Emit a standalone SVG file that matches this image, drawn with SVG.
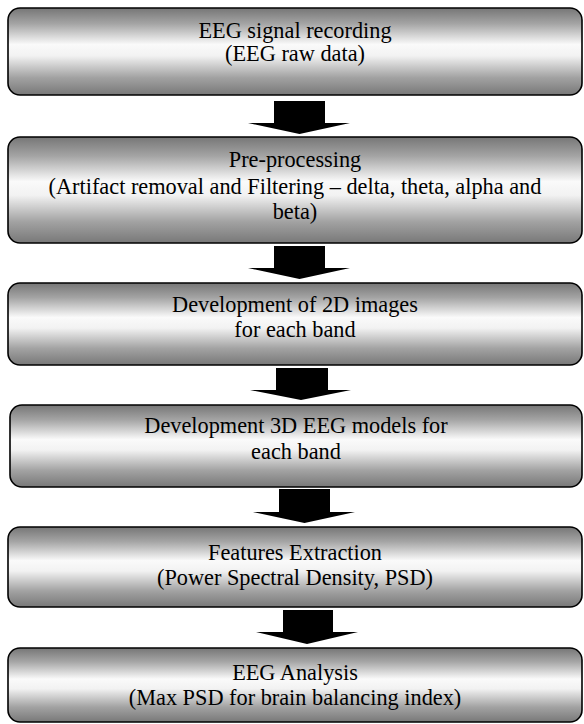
<svg xmlns="http://www.w3.org/2000/svg" width="584" height="724" viewBox="0 0 584 724">
  <defs>
    <linearGradient id="boxGrad" x1="0" y1="0" x2="0" y2="1">
      <stop offset="0" stop-color="#767676"/>
      <stop offset="0.18" stop-color="#a4a4a4"/>
      <stop offset="0.42" stop-color="#fafafa"/>
      <stop offset="0.55" stop-color="#f2f2f2"/>
      <stop offset="0.8" stop-color="#a2a2a2"/>
      <stop offset="1" stop-color="#787878"/>
    </linearGradient>
  </defs>
  <style>
    .box { fill: url(#boxGrad); stroke: #000; stroke-width: 1.6; }
    .lbl { font-family: "Liberation Serif", "Times New Roman", serif; font-size: 22.3px; fill: #000; text-anchor: middle; }
    .arrow { fill: #000; stroke: none; }
  </style>
  <rect width="584" height="724" fill="#fff"/>

  <g id="connectors">
    <polygon class="arrow" points="274,101 325,101 325,123 350,123 299.5,134 248,123 274,123"/>
    <polygon class="arrow" points="274,246 325,246 325,268 350,268 299.5,279 248,268 274,268"/>
    <polygon class="arrow" points="276,368 328,368 328,390 351,390 301,400 250,390 276,390"/>
    <polygon class="arrow" points="279,489 330,489 330,512 355,512 304.5,523 253,512 279,512"/>
    <polygon class="arrow" points="283,610 333,610 333,632 358,632 307,644 256,632 283,632"/>
  </g>

  <g id="node1">
    <rect class="box" x="8" y="8" width="574" height="87" rx="12" ry="12"/>
    <text class="lbl" x="295" y="38">EEG signal recording</text>
    <text class="lbl" x="295" y="61">(EEG raw data)</text>
  </g>

  <g id="node2">
    <rect class="box" x="8" y="137" width="574" height="106" rx="12" ry="12"/>
    <text class="lbl" x="295" y="167">Pre-processing</text>
    <text class="lbl" x="295" y="194">(Artifact removal and Filtering – delta, theta, alpha and</text>
    <text class="lbl" x="295" y="219">beta)</text>
  </g>

  <g id="node3">
    <rect class="box" x="8" y="283" width="574" height="82" rx="12" ry="12"/>
    <text class="lbl" x="295" y="312">Development of 2D images</text>
    <text class="lbl" x="295" y="337">for each band</text>
  </g>

  <g id="node4">
    <rect class="box" x="10" y="405" width="572" height="82" rx="12" ry="12"/>
    <text class="lbl" x="296" y="433">Development 3D EEG models for</text>
    <text class="lbl" x="296" y="459">each band</text>
  </g>

  <g id="node5">
    <rect class="box" x="8" y="527" width="574" height="80" rx="12" ry="12"/>
    <text class="lbl" x="295" y="560">Features Extraction</text>
    <text class="lbl" x="295" y="585">(Power Spectral Density, PSD)</text>
  </g>

  <g id="node6">
    <rect class="box" x="8" y="648" width="574" height="74" rx="12" ry="12"/>
    <text class="lbl" x="295" y="680">EEG Analysis</text>
    <text class="lbl" x="295" y="705">(Max PSD for brain balancing index)</text>
  </g>
</svg>
